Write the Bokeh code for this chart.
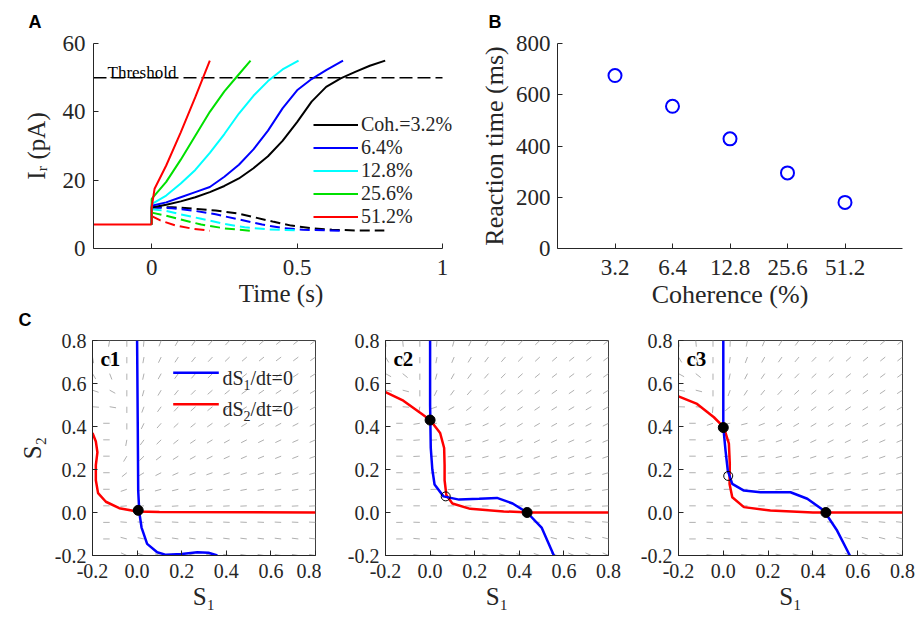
import numpy as np
from bokeh.plotting import figure
from bokeh.layouts import row, column
from bokeh.models import (Range1d, FixedTicker, NumeralTickFormatter, Label,
                          Legend, LegendItem, Title)
from bokeh.embed import file_html
from bokeh.resources import INLINE

# ------------------------------------------------------------------ data
# Panel B
coh_labels = ["3.2", "6.4", "12.8", "25.6", "51.2"]
rt_ms = [675, 555, 428, 295, 180]

# Panel A : synaptic input currents (pA) vs time (s)
t_axis = (-0.2, 1.0)
threshold_pA = 50
t_pre = [-0.2, 0.0]
I_pre = [7, 7]

t_win_32 = [0.0, 0.0, 0.05, 0.10, 0.15, 0.20, 0.25, 0.30, 0.35, 0.40, 0.45, 0.50, 0.55, 0.60, 0.65, 0.70, 0.75, 0.803]
I_win_32 = [7, 12, 12.8, 13.8, 15.0, 16.5, 18.3, 20.5, 23.5, 27.0, 31.5, 37.0, 43.0, 47.3, 49.8, 51.7, 53.5, 55.0]
t_win_64 = [0.0, 0.0, 0.05, 0.10, 0.15, 0.20, 0.25, 0.30, 0.35, 0.40, 0.45, 0.50, 0.55, 0.60, 0.658]
I_win_64 = [7, 12.5, 13.5, 15.0, 16.5, 18.0, 21.0, 24.5, 29.0, 34.5, 41.0, 46.3, 49.6, 52.2, 55.0]
t_win_128 = [0.0, 0.0, 0.05, 0.10, 0.15, 0.20, 0.25, 0.30, 0.35, 0.40, 0.45, 0.505]
I_win_128 = [7, 13.0, 15.5, 19.0, 23.0, 28.0, 33.5, 39.5, 44.7, 49.0, 52.4, 55.0]
t_win_256 = [0.0, 0.0, 0.05, 0.10, 0.15, 0.20, 0.25, 0.30, 0.34]
I_win_256 = [7, 14.5, 19.5, 26.0, 33.0, 40.0, 46.0, 51.0, 55.0]
t_win_512 = [0.0, 0.0, 0.01, 0.05, 0.10, 0.15, 0.20]
I_win_512 = [7, 12.0, 17.5, 24.3, 34.0, 44.3, 55.0]

t_lose_32 = [0.0, 0.07, 0.15, 0.22, 0.30, 0.35, 0.42, 0.48, 0.55, 0.62, 0.70, 0.80]
I_lose_32 = [12.0, 12.1, 11.6, 11.1, 10.2, 9.2, 7.8, 6.7, 5.9, 5.5, 5.3, 5.3]
t_lose_64 = [0.0, 0.07, 0.15, 0.22, 0.30, 0.38, 0.45, 0.52, 0.60, 0.658]
I_lose_64 = [12.0, 11.8, 11.0, 10.0, 8.5, 7.0, 6.0, 5.5, 5.3, 5.2]
t_lose_128 = [0.0, 0.05, 0.10, 0.17, 0.25, 0.32, 0.40, 0.505]
I_lose_128 = [11.5, 11.0, 10.0, 8.7, 7.2, 6.2, 5.6, 5.3]
t_lose_256 = [0.0, 0.05, 0.10, 0.17, 0.25, 0.34]
I_lose_256 = [10.5, 9.6, 8.5, 7.0, 5.9, 5.2]
t_lose_512 = [0.0, 0.03, 0.08, 0.14, 0.20]
I_lose_512 = [9.5, 8.2, 6.8, 5.8, 5.2]

# Panel C : nullclines and fixed points in the (S1, S2) plane
c1_null1_s1 = [0.0, 0.003, 0.005, 0.01, 0.02, 0.045, 0.09, 0.13, 0.20, 0.27, 0.32, 0.36]
c1_null1_s2 = [0.8, 0.4, 0.1, 0.0, -0.07, -0.146, -0.185, -0.197, -0.193, -0.185, -0.187, -0.2]
c1_null2_s1 = [-0.2, -0.185, -0.178, -0.185, -0.185, -0.175, -0.14, -0.08, 0.0, 0.1, 0.8]
c1_null2_s2 = [0.37, 0.33, 0.28, 0.22, 0.15, 0.09, 0.05, 0.02, 0.005, 0.002, 0.0]
c1_fp_stable_s1 = [0.005]
c1_fp_stable_s2 = [0.01]

c2_null1_s1 = [0.0, 0.0, 0.003, 0.01, 0.02, 0.06, 0.13, 0.22, 0.30, 0.37, 0.435, 0.50, 0.555]
c2_null1_s2 = [0.8, 0.5, 0.3, 0.2, 0.13, 0.075, 0.06, 0.064, 0.068, 0.042, 0.0, -0.07, -0.2]
c2_null2_s1 = [-0.2, -0.12, -0.04, 0.0, 0.045, 0.063, 0.065, 0.065, 0.073, 0.10, 0.18, 0.33, 0.45, 0.8]
c2_null2_s2 = [0.56, 0.52, 0.46, 0.43, 0.37, 0.30, 0.22, 0.15, 0.08, 0.042, 0.017, 0.005, 0.0, 0.0]
c2_fp_stable_s1 = [0.0, 0.435]
c2_fp_stable_s2 = [0.43, 0.0]
c2_fp_saddle_s1 = [0.07]
c2_fp_saddle_s2 = [0.075]

c3_null1_s1 = [0.0, 0.0, 0.01, 0.02, 0.04, 0.092, 0.166, 0.24, 0.30, 0.375, 0.449, 0.508, 0.565]
c3_null1_s2 = [0.8, 0.397, 0.288, 0.195, 0.133, 0.102, 0.094, 0.094, 0.094, 0.064, 0.009, -0.084, -0.2]
c3_null2_s1 = [-0.2, -0.117, -0.042, 0.002, 0.025, 0.029, 0.028, 0.04, 0.092, 0.21, 0.40, 0.8]
c3_null2_s2 = [0.54, 0.505, 0.443, 0.397, 0.32, 0.226, 0.133, 0.071, 0.025, 0.009, 0.0, 0.0]
c3_fp_stable_s1 = [0.0, 0.458]
c3_fp_stable_s2 = [0.395, 0.0]
c3_fp_saddle_s1 = [0.022]
c3_fp_saddle_s2 = [0.17]

# vector-field sample grid and stroke orientation (degrees), rows top -> bottom
q_s1 = [-0.2, -0.123, -0.046, 0.031, 0.108, 0.185, 0.262, 0.338, 0.415, 0.492, 0.569, 0.646, 0.723, 0.8]
q_s2 = [0.8, 0.723, 0.646, 0.569, 0.492, 0.415, 0.338, 0.262, 0.185, 0.108, 0.031, -0.046, -0.123, -0.2]
c1_angles = [
    [90, 80, 90, 85, 70, 60, 55, 50, 48, 45, 42, 40, 40, 38],
    [100, 95, 90, 80, 65, 58, 52, 48, 45, 42, 40, 38, 38, 36],
    [120, 110, 90, 78, 62, 55, 50, 45, 42, 40, 38, 36, 35, 34],
    [160, 150, 90, 75, 60, 52, 46, 42, 40, 37, 35, 34, 33, 32],
    [175, 170, 90, 70, 55, 48, 43, 40, 37, 35, 33, 32, 31, 30],
    [0, 0, 90, 65, 50, 44, 40, 36, 34, 32, 30, 29, 28, 28],
    [0, 0, 80, 55, 45, 40, 35, 32, 30, 28, 27, 26, 25, 25],
    [0, 0, 60, 45, 38, 33, 30, 27, 25, 24, 23, 22, 22, 21],
    [0, 0, 40, 32, 28, 25, 22, 20, 19, 18, 17, 17, 16, 16],
    [0, 0, 20, 18, 16, 14, 13, 12, 11, 11, 10, 10, 10, 10],
    [0, 0, 5, 5, 4, 4, 4, 3, 3, 3, 3, 3, 3, 3],
    [0, 0, -5, -4, -4, -4, -3, -3, -3, -3, -3, -3, -3, -3],
    [0, 0, -15, -12, -10, -9, -8, -8, -7, -7, -7, -7, -7, -7],
    [0, 0, -25, -20, -15, -13, -12, -11, -10, -10, -10, -10, -10, -10],
]
c2_angles = [
    [95, 95, 90, 85, 75, 65, 58, 52, 48, 45, 43, 41, 40, 40],
    [120, 110, 90, 80, 68, 60, 54, 50, 46, 44, 42, 40, 39, 38],
    [150, 140, 90, 75, 62, 55, 50, 46, 43, 41, 39, 38, 37, 36],
    [170, 165, 90, 65, 55, 50, 46, 42, 40, 38, 36, 35, 34, 33],
    [178, 175, 80, 20, 30, 38, 40, 38, 36, 35, 33, 32, 31, 30],
    [0, 0, 10, 5, 10, 18, 25, 30, 32, 31, 30, 29, 28, 28],
    [0, 0, 5, 3, 8, 14, 20, 24, 26, 27, 26, 25, 25, 24],
    [0, 0, 3, 2, 6, 10, 15, 18, 20, 21, 21, 21, 21, 20],
    [0, 0, 2, 2, 4, 7, 10, 13, 15, 16, 16, 16, 16, 16],
    [0, 0, 2, 2, 3, 4, 6, 8, 9, 10, 10, 10, 10, 10],
    [0, 0, 0, 0, 1, 2, 2, 3, 3, 3, 3, 3, 3, 3],
    [0, 0, -2, -2, -2, -3, -3, -3, -4, -5, -6, -6, -6, -6],
    [0, 0, -5, -5, -6, -7, -8, -9, -10, -12, -14, -15, -15, -15],
    [0, 0, -8, -8, -10, -12, -13, -15, -17, -20, -22, -24, -25, -25],
]
c3_angles = [
    [95, 95, 90, 88, 78, 68, 60, 54, 50, 47, 44, 42, 41, 40],
    [120, 110, 90, 82, 70, 62, 56, 51, 47, 45, 43, 41, 40, 39],
    [150, 140, 90, 78, 64, 57, 52, 47, 44, 42, 40, 39, 38, 37],
    [170, 165, 90, 70, 58, 52, 48, 44, 41, 39, 37, 36, 35, 34],
    [178, 175, 85, 40, 40, 42, 42, 40, 38, 36, 34, 33, 32, 31],
    [0, 0, 20, 8, 15, 22, 28, 31, 32, 31, 30, 29, 28, 28],
    [0, 0, 8, 4, 8, 14, 20, 24, 26, 27, 26, 25, 25, 24],
    [0, 0, 4, 3, 5, 9, 14, 17, 19, 20, 20, 20, 20, 20],
    [0, 0, 3, 2, 3, 5, 8, 11, 13, 14, 15, 15, 15, 15],
    [0, 0, 2, 1, 2, 3, 4, 6, 7, 8, 9, 9, 9, 9],
    [0, 0, 0, 0, 1, 1, 2, 2, 2, 2, 2, 2, 2, 2],
    [0, 0, -2, -2, -2, -3, -3, -3, -4, -5, -6, -6, -6, -6],
    [0, 0, -5, -5, -6, -7, -8, -9, -10, -12, -14, -15, -15, -15],
    [0, 0, -8, -8, -10, -12, -13, -15, -17, -20, -22, -24, -25, -25],
]

# ------------------------------------------------------------------ style
SERIF = "Liberation Serif"
SANS = "Liberation Sans"
INK = "#262626"
COLORS = ["#000000", "#0000ff", "#00ffff", "#00e000", "#ff0000"]
Q_LEN = 0.029


def page_to_data(fr, px, py):
    L, T, W, H, x0, x1, y0, y1 = fr
    return x0 + (px - L) / W * (x1 - x0), y1 - (py - T) / H * (y1 - y0)


def add_text(p, fr, px, py, text, size, font=SERIF, style="normal", color="#000000"):
    x, y = page_to_data(fr, px, py)
    p.add_layout(Label(x=x, y=y, text=text, text_font=font, text_font_size=f"{size}px",
                       text_font_style=style, text_align="left",
                       text_baseline="alphabetic", text_color=color))


def make_fig(w, h, bl, br, bt, bb, xr, yr):
    p = figure(width=w, height=h, x_range=Range1d(*xr), y_range=Range1d(*yr),
               output_backend="svg", toolbar_location=None,
               min_border_left=bl, min_border_right=br, min_border_top=bt, min_border_bottom=bb)
    p.xgrid.visible = False
    p.ygrid.visible = False
    p.background_fill_color = "white"
    p.border_fill_color = "white"
    return p


def letter_title(text, offset, standoff, valign="bottom"):
    return Title(text=text, align="left", offset=offset, standoff=standoff,
                 vertical_align=valign,
                 text_font=SANS, text_font_size="18px", text_font_style="bold",
                 text_color="#000000")


def style_axis(ax, fs, standoff, label_standoff=0, label_size=26):
    ax.axis_line_color = INK
    ax.axis_line_width = 1
    ax.major_tick_line_color = INK
    ax.minor_tick_line_color = None
    ax.major_tick_in = 5
    ax.major_tick_out = 0
    ax.major_label_text_font = SERIF
    ax.major_label_text_font_size = f"{fs}px"
    ax.major_label_text_color = INK
    ax.major_label_standoff = standoff
    ax.axis_label_text_font = SERIF
    ax.axis_label_text_font_style = "normal"
    ax.axis_label_text_font_size = f"{label_size}px"
    ax.axis_label_text_color = INK
    ax.axis_label_standoff = label_standoff


# ------------------------------------------------------------------ geometry (page px)
ROW1_H, ROW2_H = 330, 293
A_LEFT, A_TOP, A_FW, A_FH = 93, 43, 349, 205       # frame of A up to t = 1
A_W = 476
A_EXTRA = 26                                        # frame continues past the axis end
A_BR = A_W - A_LEFT - A_FW - A_EXTRA
t_end = t_axis[1] + A_EXTRA * (t_axis[1] - t_axis[0]) / A_FW

# ------------------------------------------------------------------ panel A
frA = (A_LEFT, A_TOP, A_FW + A_EXTRA, A_FH, t_axis[0], t_end, 0, 60)
pA = make_fig(A_W, ROW1_H, A_LEFT, A_BR, A_TOP, ROW1_H - A_TOP - A_FH, (t_axis[0], t_end), (0, 60))
pA.outline_line_color = None
style_axis(pA.xaxis[0], 23, 11, 2, 25)
style_axis(pA.yaxis[0], 23, 8, 10, 25)
pA.xaxis[0].bounds = t_axis
pA.xaxis[0].ticker = FixedTicker(ticks=[0, 0.5, 1])
pA.xaxis[0].formatter = NumeralTickFormatter(format="0.[0]")
pA.yaxis[0].ticker = FixedTicker(ticks=[0, 20, 40, 60])
pA.xaxis[0].axis_label = "Time (s)"
pA.yaxis[0].axis_label = "I\u1d63 (pA)"
pA.add_layout(letter_title("A", 28 - A_LEFT, 20, "top"), "above")
pA.add_layout(letter_title("C", 18 - A_LEFT, -4), "below")

pA.line(list(t_axis), [threshold_pA, threshold_pA], line_color="#000000",
        line_width=1.5, line_dash="13 5")

lose = [(t_lose_32, I_lose_32), (t_lose_64, I_lose_64), (t_lose_128, I_lose_128),
        (t_lose_256, I_lose_256), (t_lose_512, I_lose_512)]
win = [(t_win_32, I_win_32), (t_win_64, I_win_64), (t_win_128, I_win_128),
       (t_win_256, I_win_256), (t_win_512, I_win_512)]
for (t, I), c in zip(lose, COLORS):
    pA.line(t, I, line_color=c, line_width=2, line_dash="10 5")
win_renderers = []
for (t, I), c in zip(win, COLORS):
    win_renderers.append(pA.line(t, I, line_color=c, line_width=2))
pA.line(t_pre, I_pre, line_color=COLORS[-1], line_width=2)

leg_labels = ["Coh.=" + coh_labels[0] + "%"] + [s + "%" for s in coh_labels[1:]]
legA = Legend(items=[LegendItem(label=l, renderers=[r]) for l, r in zip(leg_labels, win_renderers)],
              location=(220, 20), border_line_color=None, background_fill_alpha=0,
              glyph_width=45, glyph_height=23, label_height=23, label_standoff=3,
              spacing=0, padding=0, margin=0, label_text_font=SERIF,
              label_text_font_size="20px", label_text_color=INK)
pA.add_layout(legA)
add_text(pA, frA, 107, 72, "Threshold", 17)

# ------------------------------------------------------------------ panel B
B_LEFT = 552
pB = make_fig(916 - A_W, ROW1_H, B_LEFT - A_W, 916 - B_LEFT - 350, A_TOP, ROW1_H - A_TOP - A_FH,
              (0, 6), (0, 800))
pB.outline_line_color = None
style_axis(pB.xaxis[0], 23, 11, 2, 26)
style_axis(pB.yaxis[0], 23, 7, 4, 26)
coh_pos = list(range(1, len(coh_labels) + 1))
pB.xaxis[0].ticker = FixedTicker(ticks=coh_pos)
pB.xaxis[0].major_label_overrides = {i: s for i, s in zip(coh_pos, coh_labels)}
pB.yaxis[0].ticker = FixedTicker(ticks=[0, 200, 400, 600, 800])
pB.xaxis[0].axis_label = "Coherence (%)"
pB.yaxis[0].axis_label = "Reaction time (ms)"
pB.scatter(coh_pos, rt_ms, marker="circle", size=13, fill_color=None,
           line_color="#0000ff", line_width=2)
pB.add_layout(letter_title("B", 483 - B_LEFT, 20, "top"), "above")

# ------------------------------------------------------------------ panel C
C_TOP, C_FH = 340, 215
C_BT = C_TOP - ROW1_H
c_specs = [
    # name, canvas width, frame left (page), frame width, angles, nullcline 1, nullcline 2, stable, saddle
    ("c1", 321, 92, 223, c1_angles, (c1_null1_s1, c1_null1_s2), (c1_null2_s1, c1_null2_s2),
     (c1_fp_stable_s1, c1_fp_stable_s2), None),
    ("c2", 307, 385, 223, c2_angles, (c2_null1_s1, c2_null1_s2), (c2_null2_s1, c2_null2_s2),
     (c2_fp_stable_s1, c2_fp_stable_s2), (c2_fp_saddle_s1, c2_fp_saddle_s2)),
    ("c3", 288, 678, 224, c3_angles, (c3_null1_s1, c3_null1_s2), (c3_null2_s1, c3_null2_s2),
     (c3_fp_stable_s1, c3_fp_stable_s2), (c3_fp_saddle_s1, c3_fp_saddle_s2)),
]
c_figs = []
canvas_left = 0
for name, w, left, fw, angs, n1, n2, fps, fpu in c_specs:
    fr = (left, C_TOP, fw, C_FH, -0.2, 0.8, -0.2, 0.8)
    bl = left - canvas_left
    p = make_fig(w, ROW2_H, bl, w - bl - fw, C_BT, ROW2_H - C_BT - C_FH, (-0.2, 0.8), (-0.2, 0.8))
    canvas_left += w
    p.outline_line_color = "#404040"
    p.outline_line_width = 1
    style_axis(p.xaxis[0], 20, 8, 2, 25)
    style_axis(p.yaxis[0], 20, 6, 6, 25)
    for ax in (p.xaxis[0], p.yaxis[0]):
        ax.ticker = FixedTicker(ticks=[-0.2, 0, 0.2, 0.4, 0.6, 0.8])
        ax.formatter = NumeralTickFormatter(format="0.0")
    p.xaxis[0].axis_label = "S\u2081"
    # vector field
    x0s, y0s, x1s, y1s = [], [], [], []
    for j, rang in enumerate(angs):
        for i, a in enumerate(rang):
            th = np.deg2rad(a)
            x0s.append(q_s1[i]); y0s.append(q_s2[j])
            x1s.append(q_s1[i] - Q_LEN * np.cos(th)); y1s.append(q_s2[j] - Q_LEN * np.sin(th))
    p.segment(x0s, y0s, x1s, y1s, line_color="#b0b0b0", line_width=1)
    p.line(n2[0], n2[1], line_color="#ff0000", line_width=2.5)
    p.line(n1[0], n1[1], line_color="#0000ff", line_width=2.5)
    p.scatter(fps[0], fps[1], marker="circle", size=10, fill_color="#000000", line_color="#000000")
    if fpu is not None:
        p.scatter(fpu[0], fpu[1], marker="circle", size=9, fill_color=None,
                  line_color="#000000", line_width=1)
    add_text(p, fr, left + 8, 358, name, 21, style="bold")
    c_figs.append((p, fr))

p1, fr1 = c_figs[0]
p1.yaxis[0].axis_label = "S\u2082"
# legend of c1
for k, (col, sub) in enumerate([("#0000ff", "1"), ("#ff0000", "2")]):
    yl = 372.3 + 31.4 * k
    xa, ya = page_to_data(fr1, 172.7, yl)
    xb, _ = page_to_data(fr1, 218.3, yl)
    p1.line([xa, xb], [ya, ya], line_color=col, line_width=2.5)
    add_text(p1, fr1, 222, yl + 5, "dS", 20, color=INK)
    add_text(p1, fr1, 243, yl + 12, sub, 14, color=INK)
    add_text(p1, fr1, 250, yl + 5, "/dt=0", 20, color=INK)

layout = column(row(pA, pB), row(*[pf for pf, _ in c_figs]))
open("out.html", "w").write(file_html(layout, INLINE))
